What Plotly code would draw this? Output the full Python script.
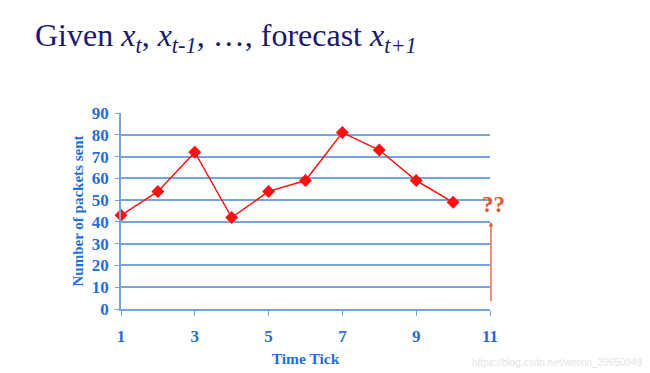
import plotly.graph_objects as go

time_ticks = [1, 2, 3, 4, 5, 6, 7, 8, 9, 10]
packets = [43, 54, 72, 42, 54, 59, 81, 73, 59, 49]
x_tickvals = [1, 3, 5, 7, 9, 11]
y_tickvals = [0, 10, 20, 30, 40, 50, 60, 70, 80, 90]
forecast_x = 11
forecast_label_y = 48
arrow_top_y = 40
arrow_bottom_y = 3

BLUE_TEXT = "#1f6fd8"
GRID = "#74a3de"
RED = "#ff1010"
ORANGE = "#e8542a"
SERIF = "Liberation Serif, Times New Roman, serif"

fig = go.Figure()
fig.add_trace(go.Scatter(
    x=time_ticks, y=packets, mode="lines+markers",
    line=dict(color=RED, width=1.5),
    marker=dict(symbol="diamond", size=10, color=RED),
    cliponaxis=False, showlegend=False, hoverinfo="skip",
))

fig.add_annotation(
    x=forecast_x, y=arrow_top_y, ax=forecast_x, ay=arrow_bottom_y,
    xref="x", yref="y", axref="x", ayref="y",
    showarrow=True, arrowhead=2, arrowsize=0.7, arrowwidth=1.3,
    arrowcolor=ORANGE, text="", xshift=1,
)
fig.add_annotation(
    x=forecast_x, y=forecast_label_y, xref="x", yref="y",
    text="<b>??</b>", showarrow=False, xanchor="center", yanchor="middle",
    xshift=3, font=dict(family=SERIF, size=23, color=ORANGE),
)
fig.add_annotation(
    x=1.0 + 155 / 369, y=-53 / 196, xref="paper", yref="paper",
    xanchor="right", yanchor="middle",
    text="https://blog.csdn.net/weixin_39650949", showarrow=False,
    font=dict(family="Liberation Sans, Arial, sans-serif", size=10, color="#e4e4e4"),
)

fig.update_layout(
    width=650, height=373,
    margin=dict(l=121, r=160, t=113, b=64, autoexpand=False),
    paper_bgcolor="white", plot_bgcolor="white",
    title=dict(
        text="Given <i>x</i><sub><i>t</i></sub>, <i>x</i><sub><i>t-1</i></sub>, …, forecast <i>x</i><sub><i>t+1</i></sub>",
        x=35 / 650, xanchor="left", y=1 - 35 / 373, yanchor="middle",
        font=dict(family=SERIF, size=32, color="#1a1a6b"),
    ),
    xaxis=dict(
        range=[1, 11], tickvals=x_tickvals, showgrid=False, zeroline=False,
        showline=True, linecolor=GRID, linewidth=1.5, automargin=False,
        ticks="outside", ticklen=5, tickcolor=GRID, tickwidth=1,
        ticklabelstandoff=6,
        tickfont=dict(family=SERIF, size=17, color=BLUE_TEXT, weight="bold"),
        title=dict(text="<b>Time Tick</b>", standoff=8,
                   font=dict(family=SERIF, size=15.5, color=BLUE_TEXT)),
    ),
    yaxis=dict(
        range=[0, 90], tickvals=y_tickvals, showgrid=True, gridcolor=GRID, gridwidth=1.5,
        zeroline=False, showline=True, linecolor=GRID, linewidth=1.5, automargin=False,
        ticks="outside", ticklen=4, tickcolor=GRID,
        ticklabelstandoff=3,
        tickfont=dict(family=SERIF, size=17, color=BLUE_TEXT, weight="bold"),
        title=dict(text="<b>Number of packets sent</b>", standoff=5,
                   font=dict(family=SERIF, size=15, color=BLUE_TEXT)),
    ),
)

fig.write_html("out.html")
